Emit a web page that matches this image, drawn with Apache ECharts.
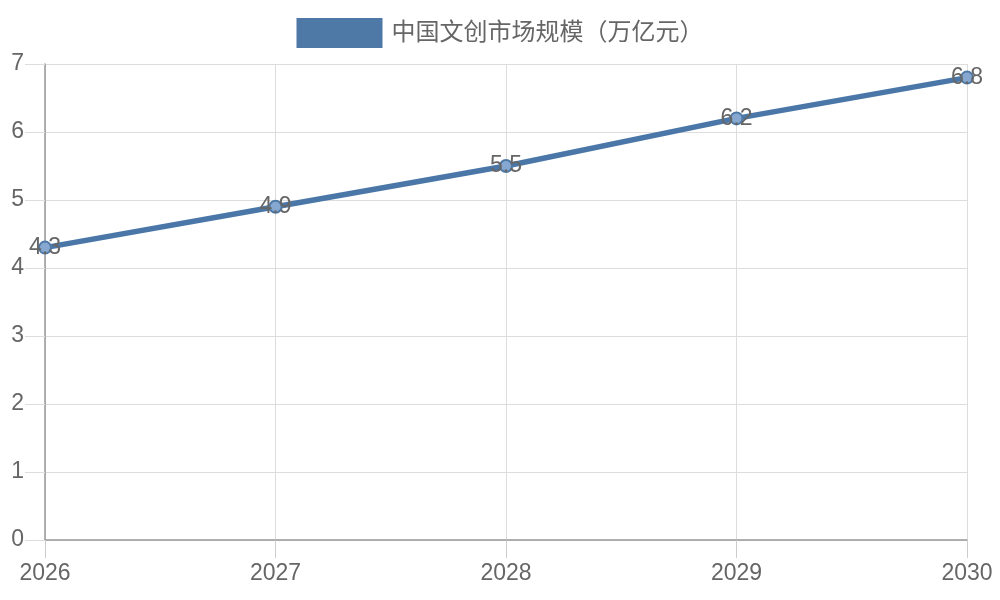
<!DOCTYPE html>
<html><head><meta charset="utf-8">
<script src="https://cdn.jsdelivr.net/npm/echarts@6/dist/echarts.min.js"></script>
<style>html,body{margin:0;padding:0;background:#fff}#c{width:1000px;height:600px}</style>
</head><body><div id="c"></div>
<script>
const years = ['2026','2027','2028','2029','2030'];
const marketSize = [4.3, 4.9, 5.5, 6.2, 6.8];
const seriesName = '中国文创市场规模（万亿元）';
const FONT = '"Liberation Sans", "Noto Sans CJK SC", sans-serif';
const chart = echarts.init(document.getElementById('c'));
chart.setOption({
  animation: false,
  textStyle: {fontFamily: FONT},
  legend: {
    top: 13, left: 'center',
    itemWidth: 86, itemHeight: 30, icon: 'rect',
    textStyle: {fontSize: 24, color: '#666', fontFamily: FONT, padding: [0,0,0,4]},
    data: [{name: seriesName, itemStyle: {color: '#4e79a7', borderWidth: 0}}]
  },
  grid: {left: 45, right: 33, top: 64, bottom: 60, containLabel: false},
  xAxis: {
    type: 'category', data: years, boundaryGap: false,
    axisLine: {show: true, lineStyle: {color: '#999', width: 1.5}},
    axisTick: {show: true, length: 18, alignWithLabel: true, lineStyle: {color: '#ccc'}},
    axisLabel: {fontSize: 23, color: '#666', margin: 22, fontFamily: FONT},
    splitLine: {show: true, lineStyle: {color: '#ddd'}}
  },
  yAxis: {
    type: 'value', min: 0, max: 7, interval: 1,
    axisLine: {show: true, lineStyle: {color: '#999', width: 1.5}},
    axisTick: {show: true, length: 20, lineStyle: {color: '#ddd'}},
    axisLabel: {fontSize: 23, color: '#666', margin: 21, fontFamily: FONT},
    splitLine: {show: true, lineStyle: {color: '#ddd'}}
  },
  series: [{
    name: seriesName, type: 'line', data: marketSize,
    lineStyle: {color: '#4a77a8', width: 5.5},
    symbol: 'circle', symbolSize: 12,
    itemStyle: {color: '#86a8d0', borderColor: '#4e79a7', borderWidth: 2},
    label: {show: true, position: 'inside', fontSize: 23, color: '#666', fontFamily: FONT},
    z: 3
  }]
});
</script></body></html>
